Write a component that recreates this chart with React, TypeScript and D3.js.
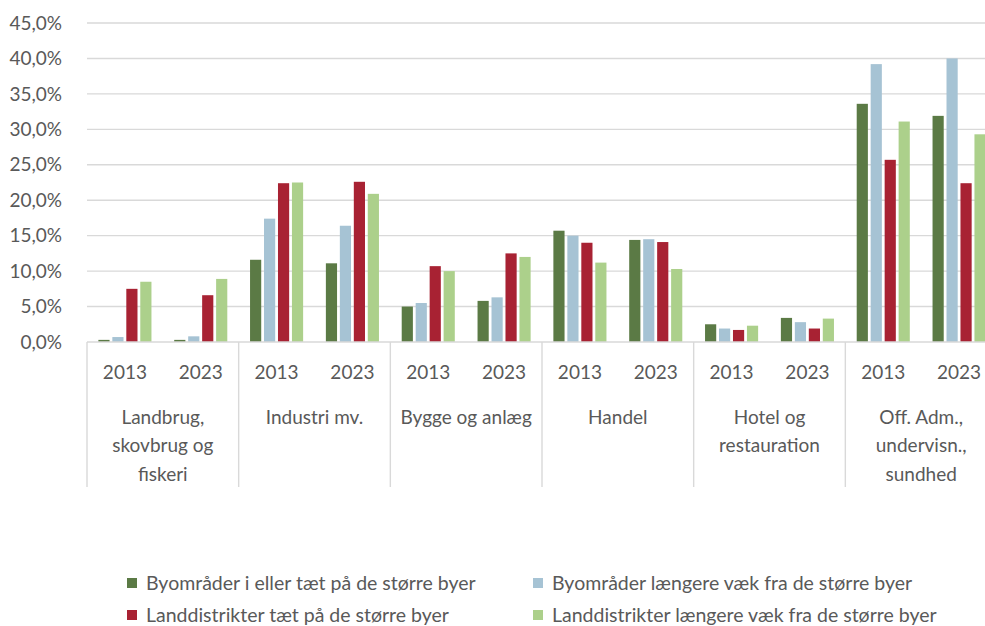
import React from 'react';
import * as d3 from 'd3';

const categories = [
  ['Landbrug,', 'skovbrug og', 'fiskeri'],
  ['Industri mv.'],
  ['Bygge og anlæg'],
  ['Handel'],
  ['Hotel og', 'restauration'],
  ['Off. Adm.,', 'undervisn.,', 'sundhed'],
];
const years = ['2013', '2023'];
const seriesNames = [
  'Byområder i eller tæt på de større byer',
  'Byområder længere væk fra de større byer',
  'Landdistrikter tæt på de større byer',
  'Landdistrikter længere væk fra de større byer',
];
const seriesColors = ['#5b7a45', '#a6c3d4', '#a82233', '#acd08b'];

// one value per category/year, in the order of categories x years
const byNear = [0.3, 0.3, 11.6, 11.1, 5.0, 5.8, 15.7, 14.4, 2.5, 3.4, 33.6, 31.9];
const byFar = [0.7, 0.8, 17.4, 16.4, 5.5, 6.3, 15.0, 14.5, 1.9, 2.8, 39.2, 40.0];
const landNear = [7.5, 6.6, 22.4, 22.6, 10.7, 12.5, 14.0, 14.1, 1.7, 1.9, 25.7, 22.4];
const landFar = [8.5, 8.9, 22.5, 20.9, 10.0, 12.0, 11.2, 10.3, 2.3, 3.3, 31.1, 29.3];
const seriesValues = [byNear, byFar, landNear, landFar];

const yTicks = [0, 5, 10, 15, 20, 25, 30, 35, 40, 45];

const textColor = '#595959';
const gridColor = '#d9d9d9';
const font = 'Lato, sans-serif';

export default function App() {
  const width = 985;
  const height = 626;
  const left = 87;
  const right = 997;
  const bottom = 342;
  const top = 23;

  const keys = categories.flatMap((c, i) => years.map(y => i + '|' + y));

  const catScale = d3.scaleBand<number>()
    .domain(categories.map((c, i) => i))
    .range([left, right]);

  const x0 = d3.scaleBand<string>()
    .domain(keys)
    .range([left, right])
    .paddingInner(0.3)
    .paddingOuter(0.15);

  const x1 = d3.scaleBand<number>()
    .domain(seriesNames.map((s, i) => i))
    .range([0, x0.bandwidth()])
    .paddingInner(0.2);

  const y = d3.scaleLinear().domain([0, 45]).range([bottom, top]);

  return (
    <div style={{ position: 'absolute', left: 0, top: 0 }}>
      <svg width={width} height={height} style={{ display: 'block', fontFamily: font }}>
        {/* grid */}
        {yTicks.map(t => (
          <g key={t}>
            {t > 0 && (
              <line x1={left} x2={width} y1={y(t)} y2={y(t)} stroke={gridColor} strokeWidth={1.4} />
            )}
            <text
              x={62}
              y={y(t)}
              dy="0.35em"
              textAnchor="end"
              fill={textColor}
              style={{ fontSize: '19px' }}
            >
              {t.toFixed(1).replace('.', ',') + '%'}
            </text>
          </g>
        ))}

        {/* bars */}
        {keys.map((k, ki) => (
          <g key={k} transform={`translate(${x0(k)},0)`}>
            {seriesValues.map((vals, si) => (
              <rect
                key={si}
                x={x1(si)}
                y={y(vals[ki])}
                width={x1.bandwidth()}
                height={bottom - y(vals[ki])}
                fill={seriesColors[si]}
              />
            ))}
          </g>
        ))}

        {/* axis line */}
        <line x1={left} x2={width} y1={bottom} y2={bottom} stroke={gridColor} strokeWidth={1.4} />

        {/* category separators */}
        {categories.map((c, i) => (
          <line
            key={i}
            x1={catScale(i)}
            x2={catScale(i)}
            y1={bottom}
            y2={487}
            stroke={gridColor}
            strokeWidth={1.4}
          />
        ))}

        {/* year labels */}
        {keys.map(k => (
          <text
            key={k}
            x={(x0(k) as number) + x0.bandwidth() / 2}
            y={372}
            dy="0.35em"
            textAnchor="middle"
            fill={textColor}
            style={{ fontSize: '19px' }}
          >
            {k.split('|')[1]}
          </text>
        ))}

        {/* category labels */}
        {categories.map((lines, i) => (
          <text
            key={i}
            textAnchor="middle"
            fill={textColor}
            style={{ fontSize: '19px' }}
          >
            {lines.map((line, li) => (
              <tspan
                key={li}
                x={(catScale(i) as number) + catScale.bandwidth() / 2}
                y={417 + li * 28.5}
                dy="0.35em"
              >
                {line}
              </tspan>
            ))}
          </text>
        ))}

        {/* legend */}
        {seriesNames.map((name, i) => {
          const lx = i % 2 === 0 ? 127 : 533;
          const ly = i < 2 ? 583 : 615;
          return (
            <g key={name} transform={`translate(${lx},${ly})`}>
              <rect x={0} y={-5} width={10} height={10} fill={seriesColors[i]} />
              <text x={19} y={0} dy="0.35em" fill={textColor} style={{ fontSize: '19.5px' }}>
                {name}
              </text>
            </g>
          );
        })}
      </svg>
    </div>
  );
}
